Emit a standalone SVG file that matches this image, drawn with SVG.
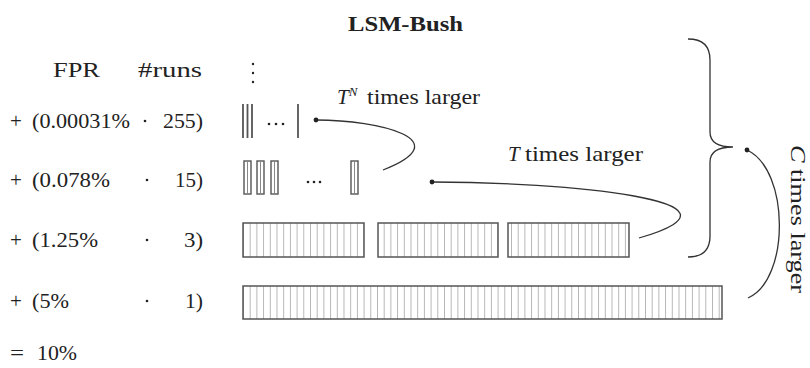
<svg xmlns="http://www.w3.org/2000/svg" width="810" height="368" viewBox="0 0 810 368">
<style>
text{font-family:"Liberation Serif","Times New Roman",serif;font-size:21px;fill:#222}
.title{font-weight:bold;font-size:22px}
.it{font-style:italic}
.box{fill:url(#hatch);stroke:#555;stroke-width:1.5}
.sbox{fill:#fff;stroke:#555;stroke-width:1.4}
.inner{stroke:#888;stroke-width:1}
.bar{stroke:#555;stroke-width:1.8}
.conn{fill:none;stroke:#333;stroke-width:1.3}
.dot{fill:#222}
</style>
<defs>
<pattern id="hatch" patternUnits="userSpaceOnUse" x="243" y="0" width="6.7" height="10">
<rect width="6.7" height="10" fill="#fff"/>
<line x1="0" y1="0" x2="0" y2="10" stroke="#888" stroke-width="1.2"/>
</pattern>
</defs>
<rect width="810" height="368" fill="#fff"/>

<g id="title"><text class="title" x="348" y="31" textLength="115" lengthAdjust="spacingAndGlyphs">LSM-Bush</text></g>

<g id="header">
<text x="53" y="77" textLength="47" lengthAdjust="spacingAndGlyphs">FPR</text>
<text x="138" y="77" textLength="64" lengthAdjust="spacingAndGlyphs">#runs</text>
<circle class="dot" cx="253" cy="64" r="1.2"/><circle class="dot" cx="253" cy="73" r="1.2"/><circle class="dot" cx="253" cy="82" r="1.2"/>
</g>

<g id="row1">
<text x="10" y="128">+</text>
<text x="32" y="128" textLength="98" lengthAdjust="spacingAndGlyphs">(0.00031%</text>
<circle class="dot" cx="145" cy="121" r="1.3"/>
<text x="203" y="128" text-anchor="end" textLength="40" lengthAdjust="spacingAndGlyphs">255)</text>
<line class="bar" x1="243" y1="104" x2="243" y2="138"/>
<line class="bar" x1="247.5" y1="104" x2="247.5" y2="138"/>
<line class="bar" x1="252" y1="104" x2="252" y2="138"/>
<circle class="dot" cx="269" cy="124" r="1.3"/><circle class="dot" cx="276" cy="124" r="1.3"/><circle class="dot" cx="283" cy="124" r="1.3"/>
<line class="bar" x1="298" y1="104" x2="298" y2="138"/>
</g>

<g id="row2">
<text x="10" y="187">+</text>
<text x="32" y="187" textLength="78" lengthAdjust="spacingAndGlyphs">(0.078%</text>
<circle class="dot" cx="147" cy="180" r="1.3"/>
<text x="203" y="187" text-anchor="end" textLength="28" lengthAdjust="spacingAndGlyphs">15)</text>
<rect class="sbox" x="244" y="161" width="7" height="33"/><line class="inner" x1="247.5" y1="161" x2="247.5" y2="194"/>
<rect class="sbox" x="257" y="161" width="7" height="33"/><line class="inner" x1="260.5" y1="161" x2="260.5" y2="194"/>
<rect class="sbox" x="271" y="161" width="7" height="33"/><line class="inner" x1="274.5" y1="161" x2="274.5" y2="194"/>
<circle class="dot" cx="308" cy="182" r="1.3"/><circle class="dot" cx="314" cy="182" r="1.3"/><circle class="dot" cx="320" cy="182" r="1.3"/>
<rect class="sbox" x="351" y="161" width="7" height="33"/><line class="inner" x1="354.5" y1="161" x2="354.5" y2="194"/>
</g>

<g id="row3">
<text x="10" y="247">+</text>
<text x="32" y="247" textLength="66" lengthAdjust="spacingAndGlyphs">(1.25%</text>
<circle class="dot" cx="147" cy="240" r="1.3"/>
<text x="203" y="247" text-anchor="end" textLength="19" lengthAdjust="spacingAndGlyphs">3)</text>
<rect class="box" x="243" y="223" width="121" height="34"/>
<rect class="box" x="378" y="223" width="120" height="34"/>
<rect class="box" x="508" y="223" width="121" height="34"/>
</g>

<g id="row4">
<text x="10" y="308">+</text>
<text x="32" y="308" textLength="37" lengthAdjust="spacingAndGlyphs">(5%</text>
<circle class="dot" cx="147" cy="301" r="1.3"/>
<text x="203" y="308" text-anchor="end" textLength="18" lengthAdjust="spacingAndGlyphs">1)</text>
<rect class="box" x="243" y="286" width="479" height="33"/>
</g>

<g id="total">
<text x="10" y="360" textLength="14" lengthAdjust="spacingAndGlyphs">=</text>
<text x="37" y="360" textLength="40" lengthAdjust="spacingAndGlyphs">10%</text>
</g>

<g id="connectors">
<path class="conn" d="M316 120 C380 120 460 140 383 170"/>
<circle class="dot" cx="316" cy="120" r="2.4"/>
<path class="conn" d="M432 182 C560 182 770 200 639 238"/>
<circle class="dot" cx="432" cy="182" r="2.4"/>
<path class="conn" d="M747 150 C790 170 790 280 748 298"/>
<circle class="dot" cx="747" cy="150" r="2.4"/>
<path class="conn" d="M688 39 Q710 39 710 60 L710 132 Q710 147 733 147 Q710 147 710 162 L710 236 Q710 257 688 257"/>
</g>

<g id="labels">
<text x="337" y="104"><tspan class="it">T</tspan><tspan class="it" font-size="13" dy="-8">N</tspan><tspan dy="8" x="367" textLength="113" lengthAdjust="spacingAndGlyphs">times larger</tspan></text>
<text x="508" y="161"><tspan class="it">T</tspan><tspan x="525" textLength="118" lengthAdjust="spacingAndGlyphs">times larger</tspan></text>
<text transform="translate(791,219) rotate(90)" text-anchor="middle" textLength="148" lengthAdjust="spacingAndGlyphs"><tspan class="it">C</tspan> times larger</text>
</g>
</svg>
